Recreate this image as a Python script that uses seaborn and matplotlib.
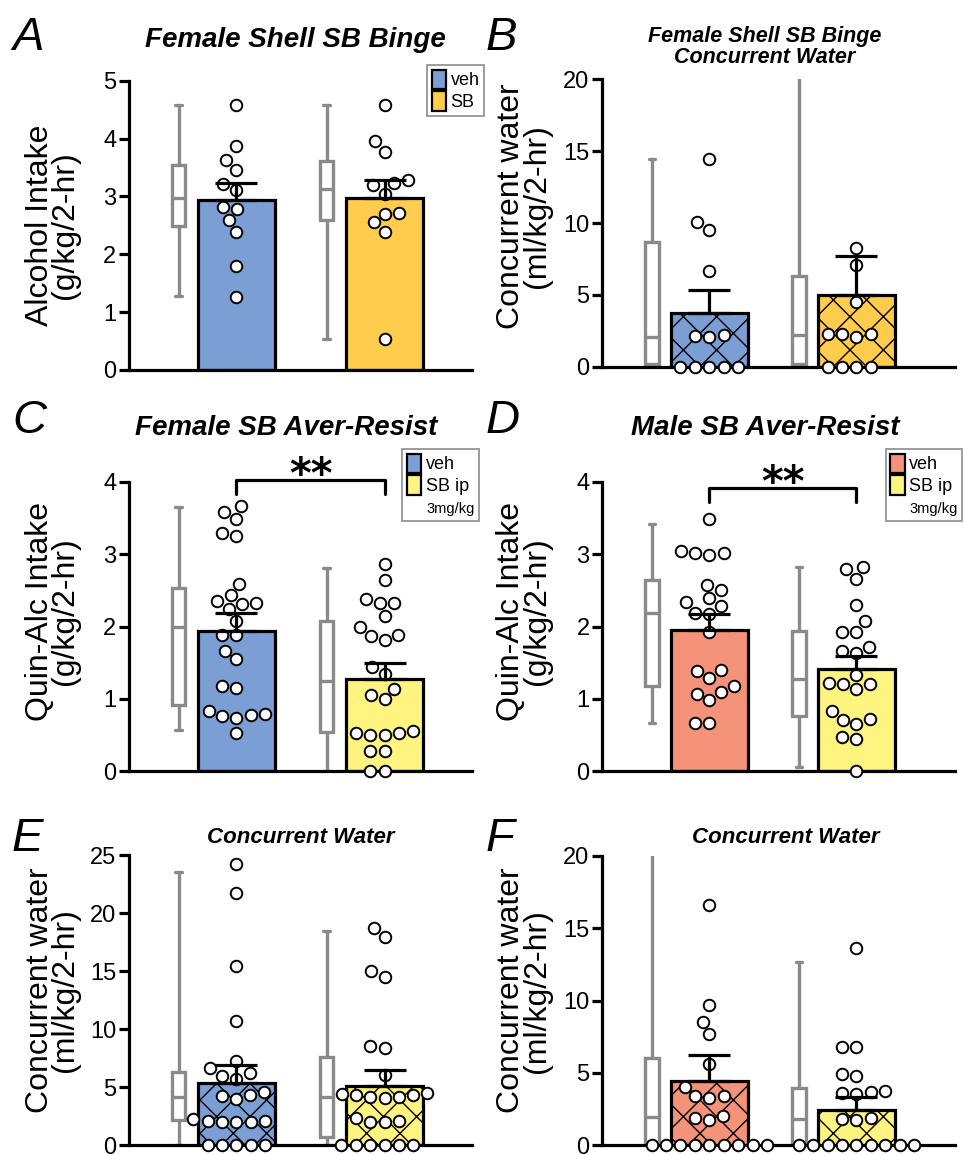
import numpy as np
import pandas as pd
import matplotlib
matplotlib.use("Agg")
import matplotlib.pyplot as plt
import seaborn as sns
from matplotlib.patches import Patch

# values
# A - Female Shell SB Binge (alcohol)
a_veh = [4.58, 3.88, 3.63, 3.46, 3.21, 3.11, 2.81, 2.78, 2.59, 2.39, 1.80, 1.27]
a_sb = [4.58, 3.95, 3.77, 3.28, 3.23, 3.20, 3.05, 2.72, 2.70, 2.55, 2.39, 0.53]
a_mean = [2.93, 2.97]
a_sem = [0.30, 0.32]
a_box_veh = [1.28, 2.49, 2.97, 3.54, 4.58]   # min, q1, median, q3, max
a_box_sb = [0.53, 2.60, 3.13, 3.62, 4.58]

# B - Female Shell SB Binge, concurrent water
b_veh = [14.45, 10.05, 9.51, 6.68, 2.20, 2.15, 2.10, 0, 0, 0, 0, 0]
b_sb = [8.28, 7.08, 4.48, 2.32, 2.27, 2.27, 2.09, 0, 0, 0, 0]
b_mean = [3.76, 4.99]
b_sem = [1.58, 2.74]
b_box_veh = [0.05, 0.2, 2.09, 8.65, 14.45]
b_box_sb = [0.05, 0.2, 2.20, 6.31, 23.0]

# C - Female SB Aver-Resist
c_veh = [3.67, 3.59, 3.49, 3.29, 3.25, 2.59, 2.43, 2.35, 2.32, 2.31, 2.24, 2.08,
         1.88, 1.88, 1.66, 1.55, 1.17, 1.15, 0.83, 0.79, 0.77, 0.76, 0.73, 0.52]
c_sb = [2.87, 2.65, 2.38, 2.33, 2.33, 2.15, 1.99, 1.88, 1.87, 1.81, 1.44, 1.34,
        1.14, 1.05, 1.00, 0.55, 0.53, 0.52, 0.50, 0.50, 0.27, 0.27, 0, 0]
c_mean = [1.94, 1.28]
c_sem = [0.24, 0.21]
c_box_veh = [0.57, 0.92, 1.99, 2.53, 3.65]
c_box_sb = [0.0, 0.54, 1.24, 2.08, 2.81]

# D - Male SB Aver-Resist
d_veh = [3.49, 3.05, 3.02, 3.02, 2.99, 2.58, 2.51, 2.39, 2.34, 2.28, 2.19,
         2.17, 1.93, 1.40, 1.38, 1.29, 1.18, 1.10, 1.07, 0.98, 0.67, 0.67]
d_sb = [2.83, 2.79, 2.66, 2.30, 2.08, 1.93, 1.93, 1.72, 1.66, 1.63, 1.33,
        1.22, 1.21, 1.21, 1.13, 0.83, 0.72, 0.70, 0.65, 0.47, 0.44, 0]
d_mean = [1.95, 1.41]
d_sem = [0.22, 0.18]
d_box_veh = [0.67, 1.18, 2.19, 2.65, 3.42]
d_box_sb = [0.06, 0.76, 1.28, 1.94, 2.82]

# E - female concurrent water
e_veh = [24.2, 21.75, 15.43, 10.72, 7.24, 6.61, 6.18, 5.95, 5.69, 4.60, 4.31, 4.25,
         3.94, 2.24, 2.10, 2.07, 2.01, 2.01, 2.01, 0, 0, 0, 0, 0]
e_sb = [18.68, 17.9, 15.0, 14.51, 8.56, 8.39, 6.03, 4.51, 4.40, 4.31, 4.31, 4.11,
        4.11, 4.02, 2.30, 2.07, 2.01, 2.01, 0, 0, 0, 0, 0, 0]
e_mean = [5.37, 5.11]
e_sem = [1.53, 1.36]
e_box_veh = [0, 2.16, 4.11, 6.32, 23.56]
e_box_sb = [0, 0.66, 4.11, 7.61, 18.45]

# F - male concurrent water
f_veh = [16.6, 9.69, 8.54, 7.68, 5.58, 4.04, 3.39, 3.39, 3.23, 2.0, 1.89, 1.73,
         0, 0, 0, 0, 0, 0, 0, 0, 0]
f_sb = [13.66, 6.80, 6.80, 4.89, 4.78, 3.76, 3.69, 3.62, 3.53, 1.89, 1.80, 1.73,
        0, 0, 0, 0, 0, 0, 0, 0, 0]
f_mean = [4.45, 2.42]
f_sem = [1.78, 0.88]
f_box_veh = [0, 0.12, 1.96, 6.0, 24.0]
f_box_sb = [0, 0.16, 1.80, 3.92, 12.64]

groups = ["veh", "SB"]
BLUE, GOLD, YELLOW, SALMON = "#7B9FD4", "#FFCC4D", "#FFF47F", "#F4937A"
GRAY = "#8A8A8A"

BAR_X = [0, 1]
BOX_X = [-0.39, 0.61]
W, H = 965, 1155
PACK_SIZE = 8.5  # spacing used when laying out the swarm
DOT_SIZE = 8.3   # drawn marker size

sns.set_style("ticks")
plt.rcParams["font.family"] = ["Liberation Sans", "DejaVu Sans"]
plt.rcParams.update({"text.color": "black", "axes.labelcolor": "black",
                     "axes.edgecolor": "black", "ytick.color": "black",
                     "xtick.color": "black"})

fig = plt.figure(figsize=(W / 100, H / 100), dpi=100)
swarms = []


def px_rect(left, right, top, bottom):
    return [left / W, 1 - bottom / H, (right - left) / W, (bottom - top) / H]


def panel(rect, xlim, veh, sb, means, sems, box_veh, box_sb, colors, ymax, step, ylabel,
          label_y=0.5, hatch=None):
    ax = fig.add_axes(rect)

    box = pd.DataFrame({"pos": np.repeat(BOX_X, 5), "val": box_veh + box_sb})
    sns.boxplot(data=box, x="pos", y="val", native_scale=True, whis=(0, 100), width=0.09,
                color="white", linecolor=GRAY, linewidth=2.4, ax=ax)

    bars = pd.DataFrame({"pos": BAR_X, "mean": means, "grp": groups})
    sns.barplot(data=bars, x="pos", y="mean", hue="grp", palette=dict(zip(groups, colors)),
                native_scale=True, dodge=False, legend=False, errorbar=None, width=0.52,
                saturation=1, edgecolor="black", linewidth=2.3, hatch=hatch, ax=ax)

    pts = pd.DataFrame({"pos": np.repeat(BAR_X, [len(veh), len(sb)]), "val": veh + sb})
    n0 = len(ax.collections)
    sns.swarmplot(data=pts, x="pos", y="val", native_scale=True, color="white",
                  edgecolor="black", linewidth=1.4, size=PACK_SIZE, warn_thresh=1, ax=ax)
    for c in ax.collections[n0:]:
        c.set_zorder(3)
        c.set_clip_on(False)
        swarms.append(c)

    ax.errorbar(BAR_X, means, yerr=[[0, 0], sems], fmt="none", ecolor="black",
                elinewidth=2.3, capsize=15, capthick=2.3, zorder=4)

    ax.set_xlim(*xlim)
    ax.set_ylim(0, ymax)
    ax.set_yticks(np.arange(0, ymax + 0.01, step))
    ax.set_xticks([])
    ax.set_xlabel("")
    ax.set_ylabel(ylabel, fontsize=23, linespacing=0.8)
    ax.yaxis.set_label_coords(-0.143, label_y)
    sns.despine(ax=ax)
    for s in ["left", "bottom"]:
        ax.spines[s].set_linewidth(2.3)
    ax.tick_params(axis="y", length=7, width=2.3, labelsize=17, pad=2)
    return ax


def add_legend(ax, colors, labels, anchor, sub=None):
    handles = [Patch(facecolor=c, edgecolor="black", linewidth=1.6) for c in colors]
    labels = list(labels)
    if sub:
        handles.append(Patch(facecolor="none", edgecolor="none"))
        labels.append(sub)
    leg = ax.legend(handles, labels, loc="upper right", bbox_to_anchor=anchor, frameon=True,
                    fancybox=False, edgecolor="#7a7a7a", fontsize=13, handlelength=0.8,
                    handleheight=1.3, handletextpad=0.25, labelspacing=0.1,
                    borderpad=0.25, borderaxespad=0)
    leg.get_frame().set_linewidth(1.3)
    if sub:
        leg.get_texts()[-1].set_fontsize(10.5)


def bracket(ax, y0, y1):
    ax.plot([BAR_X[0], BAR_X[0], BAR_X[1], BAR_X[1]], [y0, y1, y1, y0], color="black",
            lw=2.3, clip_on=False)
    ax.annotate("**", xy=(0.5, y1), xytext=(0, -6), textcoords="offset points",
                ha="center", va="baseline", fontsize=30, weight="bold",
                family="DejaVu Sans", annotation_clip=False)


LX = (-0.725, 1.59)
RX = (-0.73, 1.67)
wat = "Concurrent water\n(ml/kg/2-hr)"

ax_a = panel(px_rect(129, 472, 80.7, 370), LX, a_veh, a_sb, a_mean, a_sem, a_box_veh, a_box_sb,
             [BLUE, GOLD], 5, 1, "Alcohol Intake\n(g/kg/2-hr)")
add_legend(ax_a, [BLUE, GOLD], ["veh", "SB"], (1.035, 1.054))

ax_b = panel(px_rect(602, 955, 79, 367), RX, b_veh, b_sb, b_mean, b_sem, b_box_veh, b_box_sb,
             [BLUE, GOLD], 20, 5, wat, label_y=0.56, hatch="x")

ax_c = panel(px_rect(129, 472, 482, 771), LX, c_veh, c_sb, c_mean, c_sem, c_box_veh, c_box_sb,
             [BLUE, YELLOW], 4, 1, "Quin-Alc Intake\n(g/kg/2-hr)", label_y=0.553)
add_legend(ax_c, [BLUE, YELLOW], ["veh", "SB ip"], (1.02, 1.114), sub="3mg/kg")
bracket(ax_c, 3.84, 4.03)

ax_d = panel(px_rect(602, 955, 482, 771), RX, d_veh, d_sb, d_mean, d_sem, d_box_veh, d_box_sb,
             [SALMON, YELLOW], 4, 1, "Quin-Alc Intake\n(g/kg/2-hr)", label_y=0.553)
add_legend(ax_d, [SALMON, YELLOW], ["veh", "SB ip"], (1.02, 1.114), sub="3mg/kg")
bracket(ax_d, 3.73, 3.92)

ax_e = panel(px_rect(129, 472, 855, 1145), LX, e_veh, e_sb, e_mean, e_sem, e_box_veh, e_box_sb,
             [BLUE, YELLOW], 25, 5, wat, label_y=0.534, hatch="x")

ax_f = panel(px_rect(602, 955, 856, 1145), RX, f_veh, f_sb, f_mean, f_sem, f_box_veh, f_box_sb,
             [SALMON, YELLOW], 20, 5, wat, label_y=0.534, hatch="x")


# titles and panel letters
def ftext(x, y, s, **kw):
    fig.text(x / W, 1 - y / H, s, **kw)


title_kw = dict(ha="center", va="baseline", weight="bold", style="italic")
ftext(295, 47, "Female Shell SB Binge", fontsize=20, **title_kw)
ftext(765, 63, "Female Shell SB Binge\nConcurrent Water", fontsize=15.5, linespacing=1.0, **title_kw)
ftext(286, 435, "Female SB Aver-Resist", fontsize=20, **title_kw)
ftext(765, 435, "Male SB Aver-Resist", fontsize=20, **title_kw)
ftext(301, 843, "Concurrent Water", fontsize=16, **title_kw)
ftext(786, 843, "Concurrent Water", fontsize=16, **title_kw)

for letter, x, y in [("A", 12, 50), ("B", 486, 50), ("C", 12, 433),
                     ("D", 486, 433), ("E", 12, 851), ("F", 486, 851)]:
    ftext(x, y, letter, fontsize=34, style="italic", va="baseline")

# lay the swarms out with the packing size, then freeze them and resize the dots
fig.canvas.draw()
for c in swarms:
    if "draw" in c.__dict__:
        del c.draw
    c.set_sizes([DOT_SIZE ** 2])

fig.savefig("out.png", dpi=100)
